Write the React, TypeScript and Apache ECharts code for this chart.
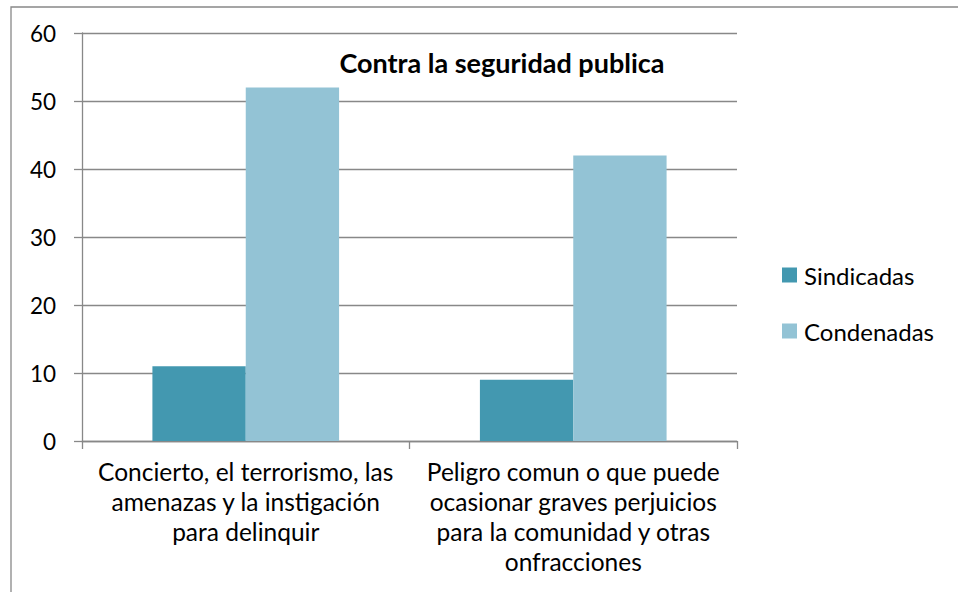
import React, { useEffect, useRef } from "react";
import * as echarts from "echarts";

const categories = [
  "Concierto, el terrorismo, las\namenazas y la instigación\npara delinquir",
  "Peligro comun o que puede\nocasionar graves perjuicios\npara la comunidad y otras\nonfracciones",
];
const sindicadas = [11, 9];
const condenadas = [52, 42];
const seriesNames = ["Sindicadas", "Condenadas"];
const title = "Contra la seguridad publica";

const FONT = "Lato, 'Open Sans', sans-serif";

export default function App() {
  const ref = useRef<HTMLDivElement>(null);
  useEffect(() => {
    document.body.style.margin = "0";
    const chart = echarts.init(ref.current!, null, { renderer: "svg" });
    chart.setOption({
      animation: false,
      textStyle: { fontFamily: FONT },
      title: {
        text: title,
        left: 497,
        top: 44,
        textAlign: "center",
        textStyle: { fontSize: 27, fontWeight: "bold", color: "#000", fontFamily: FONT },
      },
      legend: {
        orient: "vertical",
        left: 777,
        top: 258,
        itemWidth: 15,
        itemHeight: 15,
        itemGap: 32,
        icon: "rect",
        textStyle: {
          fontSize: 24,
          color: "#000",
          fontFamily: FONT,
          padding: [0, 0, 0, 2],
        },
        data: seriesNames,
      },
      grid: { left: 82, right: 221, top: 33, bottom: 151, containLabel: false },
      xAxis: {
        type: "category",
        data: categories,
        axisLine: { lineStyle: { color: "#888", width: 1.3 } },
        axisTick: { show: true, length: 8, lineStyle: { color: "#888", width: 1.3 } },
        axisLabel: {
          color: "#000",
          fontSize: 24.5,
          lineHeight: 30,
          margin: 15,
          interval: 0,
          fontFamily: FONT,
        },
      },
      yAxis: {
        type: "value",
        min: 0,
        max: 60,
        interval: 10,
        axisLine: { show: true, lineStyle: { color: "#888", width: 1.3 } },
        axisTick: { show: true, length: 8, lineStyle: { color: "#888", width: 1.3 } },
        splitLine: { lineStyle: { color: "#888", width: 1.3 } },
        axisLabel: { color: "#000", fontSize: 22.5, margin: 26, fontFamily: FONT },
      },
      graphic: [
        {
          type: "rect",
          shape: { x: 11, y: 7, width: 1000, height: 700 },
          style: { fill: "none", stroke: "#888", lineWidth: 1.3 },
          silent: true,
        },
      ],
      series: [
        {
          name: seriesNames[0],
          type: "bar",
          data: sindicadas,
          barGap: "0%",
          barCategoryGap: "43%",
          itemStyle: { color: "#4398B0" },
        },
        {
          name: seriesNames[1],
          type: "bar",
          data: condenadas,
          barGap: "0%",
          barCategoryGap: "43%",
          itemStyle: { color: "#93C3D5" },
        },
      ],
    });
    return () => chart.dispose();
  }, []);
  return (
    <div
      ref={ref}
      style={{ position: "fixed", left: 0, top: 0, width: 958, height: 592, background: "#fff" }}
    />
  );
}
